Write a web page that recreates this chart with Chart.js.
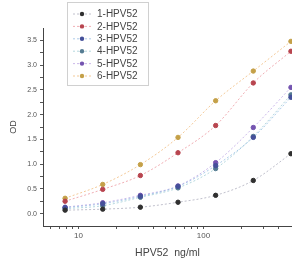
<!DOCTYPE html>
<html>
<head>
<meta charset="utf-8">
<script src="https://cdn.jsdelivr.net/npm/chart.js@4"></script>
<style>
  html, body { margin: 0; padding: 0; background: #fff; overflow: hidden; }
  canvas { display: block; }
</style>
</head>
<body>
<canvas id="odChart" width="292" height="265"></canvas>
<script>
// concentrations (ng/ml) and OD readings per sample
const concentrations = [7.8125, 15.625, 31.25, 62.5, 125, 250, 500];
const seriesNames = ['1-HPV52', '2-HPV52', '3-HPV52', '4-HPV52', '5-HPV52', '6-HPV52'];
const od1 = [0.07, 0.09, 0.13, 0.23, 0.37, 0.67, 1.21];
const od2 = [0.25, 0.49, 0.77, 1.23, 1.78, 2.64, 3.28];
const od3 = [0.12, 0.20, 0.35, 0.55, 0.97, 1.54, 2.35];
const od4 = [0.10, 0.16, 0.33, 0.52, 0.91, 1.56, 2.40];
const od5 = [0.13, 0.22, 0.37, 0.56, 1.03, 1.74, 2.55];
const od6 = [0.31, 0.59, 0.99, 1.54, 2.28, 2.88, 3.48];
const xTicks = [6, 7, 8, 9, 10, 20, 30, 40, 50, 60, 70, 80, 90, 100, 200, 300, 400];
const xLabels = [10, 100];
const yTicks = [0, 0.25, 0.5, 0.75, 1, 1.25, 1.5, 1.75, 2, 2.25, 2.5, 2.75, 3, 3.25, 3.5];

const pointColors = ['#303030', '#b8454f', '#45509a', '#557c92', '#7454b0', '#c4a048'];
const lineColors = ['rgba(150,150,170,0.6)', 'rgba(230,120,130,0.6)', 'rgba(120,170,220,0.6)',
                    'rgba(130,190,200,0.6)', 'rgba(170,140,220,0.6)', 'rgba(240,180,110,0.7)'];
const allOd = [od1, od2, od3, od4, od5, od6];

const datasets = allOd.map(function(vals, i){
    return {
        label: seriesNames[i],
        data: concentrations.map(function(c, j){ return { x: c, y: vals[j] }; }),
        borderColor: lineColors[i],
        borderWidth: 1,
        borderDash: [2, 2],
        backgroundColor: pointColors[i],
        pointBackgroundColor: pointColors[i],
        pointBorderColor: pointColors[i],
        pointRadius: 2.2,
        tension: 0.4,
        cubicInterpolationMode: 'monotone',
        fill: false,
        clip: 3
    };
});

// legend box drawn over the plot, top-left
const legendBox = {
    id: 'legendBox',
    afterDraw: function(chart){
        const ctx = chart.ctx;
        ctx.save();
        ctx.strokeStyle = '#d0d0d0';
        ctx.lineWidth = 1;
        ctx.strokeRect(67.5, 2.5, 81, 83);
        chart.data.datasets.forEach(function(ds, i){
            const y = 14 + i * 12.4;
            ctx.strokeStyle = ds.borderColor;
            ctx.setLineDash([2, 2]);
            ctx.beginPath();
            ctx.moveTo(73, y);
            ctx.lineTo(91, y);
            ctx.stroke();
            ctx.setLineDash([]);
            ctx.fillStyle = ds.pointBackgroundColor;
            ctx.beginPath();
            ctx.arc(82, y, 2.2, 0, Math.PI * 2);
            ctx.fill();
            ctx.fillStyle = '#444';
            ctx.font = '10px "Liberation Sans", Arial, sans-serif';
            ctx.textBaseline = 'middle';
            ctx.fillText(ds.label, 97, y + 0.5);
        });
        ctx.restore();
    }
};

const chart = new Chart(document.getElementById('odChart'), {
    type: 'line',
    data: { datasets: datasets },
    plugins: [legendBox],
    options: {
        responsive: false,
        animation: false,
        layout: { autoPadding: false, padding: { top: 28, right: 0, left: 0, bottom: 0 } },
        plugins: { legend: { display: false }, tooltip: { enabled: false } },
        scales: {
            x: {
                type: 'logarithmic',
                min: 5.2,
                max: 510,
                afterBuildTicks: function(scale){
                    scale.ticks = xTicks.map(function(v){ return { value: v, major: xLabels.indexOf(v) >= 0 }; });
                },
                afterFit: function(scale){ scale.height = 39; },
                ticks: {
                    autoSkip: false,
                    maxRotation: 0,
                    padding: 2,
                    color: '#555',
                    font: { family: '"Liberation Sans", Arial, sans-serif', size: 8 },
                    callback: function(v){ return xLabels.indexOf(v) >= 0 ? String(v) : ''; }
                },
                grid: {
                    drawOnChartArea: false,
                    drawTicks: true,
                    tickLength: 3,
                    tickColor: '#555'
                },
                border: { color: '#444', width: 1 },
                title: {
                    display: true,
                    text: 'HPV52  ng/ml',
                    color: '#444',
                    font: { family: '"Liberation Sans", Arial, sans-serif', size: 10.5 },
                    padding: { top: 0, bottom: 6 }
                }
            },
            y: {
                min: -0.25,
                max: 3.75,
                afterBuildTicks: function(scale){
                    scale.ticks = yTicks.map(function(v){ return { value: v }; });
                },
                afterFit: function(scale){ scale.width = 43; },
                ticks: {
                    autoSkip: false,
                    padding: 3,
                    color: '#555',
                    font: { family: '"Liberation Sans", Arial, sans-serif', size: 7 },
                    callback: function(v){ return (v * 2) % 1 === 0 ? v.toFixed(1) : ''; }
                },
                grid: {
                    drawOnChartArea: false,
                    drawTicks: true,
                    tickLength: 3,
                    tickColor: '#555'
                },
                border: { color: '#444', width: 1 },
                title: {
                    display: true,
                    text: 'OD',
                    color: '#444',
                    font: { family: '"Liberation Sans", Arial, sans-serif', size: 9 },
                    padding: { top: 8, bottom: 4 }
                }
            }
        }
    }
});
</script>
</body>
</html>
